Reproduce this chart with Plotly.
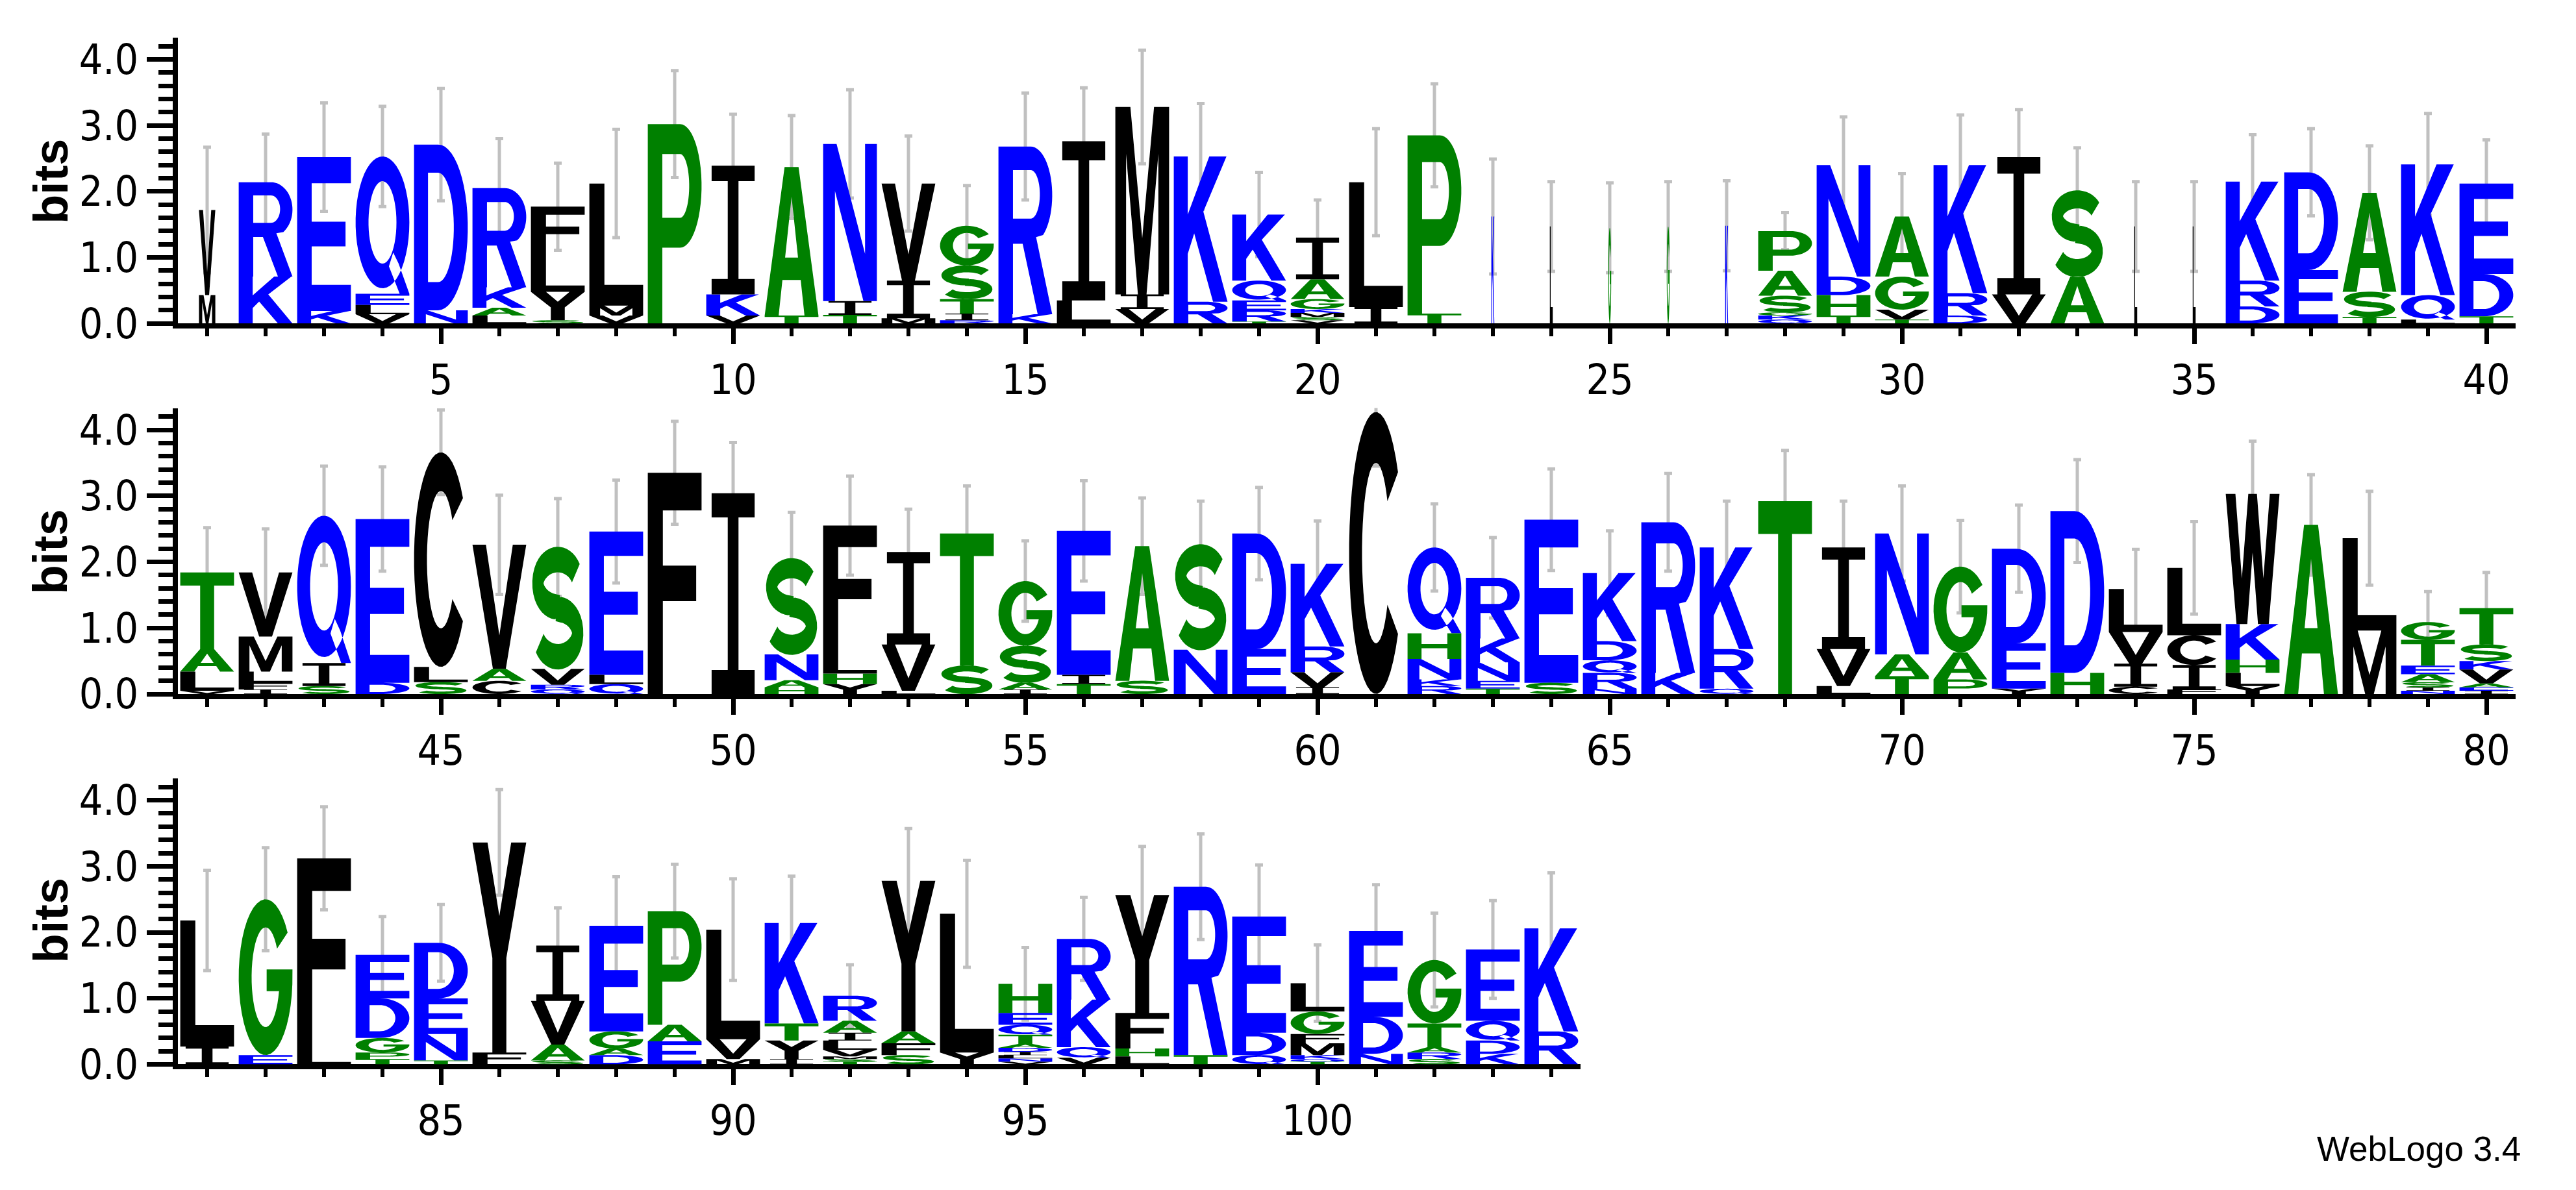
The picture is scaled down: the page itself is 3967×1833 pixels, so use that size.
import numpy as np
import plotly.graph_objects as go

# ---------------- data (bottom-to-top letters per position) ----------------
POSITIONS = list(range(1, 105))
LETTERS = [
 "MV","KR","KE","VLEQ","ND","LAKR","SYLF","VML","P","VKI",
 "TA","TIN","MIV","RITSG","KR","LI","VIM","RK","TREQK","VSMKGAI",
 "IL","TP","K","L","G","G","K","QKGSAP","THDN","TVGA",
 "DRK","VI","AS","L","L","DRK","ED","TSA","LQK","TDE",
 "VLAT","IFLMV","SIQ","DE","SLC","CAV","QRVS","QLE","F","I",
 "HANS","YHLF","LVI","ST","IASG","TIE","SA","NS","ED","IVRK",
 "C","RKNHQ","TENKR","SE","NRQDK","KR","QRK","T","LVI","TAN",
 "PAG","YED","HD","CIVL","FICL","YLHKW","A","ML","NISAETG","IEAVKST",
 "IL","EG","LF","TPGDE","TNED","FY","SAVI","DAGE","EAP","MVL",
 "IYTK","TSMVLIAR","SFAY","YL","VNLIDATQEH","VQKR","LHFY","TR","QDE","TQKMFGL",
 "NDE","SRATG","KDQE","RK",
]
HEIGHTS = [
 [.43,1.29],[.71,1.43],[.19,2.33],[.14,.14,.17,2.08],[.2,2.51],[.12,.12,.31,1.5],[.05,.43,.57,.72],[.12,.15,1.85],[3.02],[.12,.32,1.95],
 [.12,2.25],[.13,.21,2.38],[.08,.57,1.47],[.05,.1,.22,.51,.6],[.14,2.54],[.35,2.41],[.22,.22,2.84],[.33,2.2],[.03,.17,.15,.3,1.0],[.05,.05,.06,.06,.15,.3,.63],
 [.25,1.89],[.15,2.7],[1.62],[1.47],[1.45],[1.47],[1.48],[.06,.06,.05,.25,.38,.6],[.12,.31,.28,1.69],[.06,.15,.5,.91],
 [.12,.34,1.94],[.44,2.08],[.71,1.3],[1.47],[1.47],[.26,.39,1.5],[.81,1.48],[.1,.38,1.5],[.06,.37,1.98],[.11,.64,1.37],
 [.05,.29,.34,1.16],[.07,.1,.17,.53,.97],[.12,.35,2.23],[.17,2.48],[.18,.23,3.25],[.2,.18,1.88],[.07,.07,.24,1.84],[.15,.14,2.17],[3.35],[3.04],
 [.1,.11,.39,1.45],[.15,.16,.32,1.92],[.05,.7,1.4],[.43,2.0],[.07,.1,.56,.98],[.15,.14,2.18],[.2,2.04],[.67,1.59],[.68,1.75],[.1,.23,.39,1.25],
 [4.27],[.12,.1,.31,.39,1.3],[.08,.12,.28,.36,.92],[.17,2.47],[.08,.24,.19,.29,1.03],[.32,2.28],[.08,.6,1.54],[2.92],[.12,.56,1.54],[.27,.33,1.83],
 [.22,.41,1.3],[.08,.69,1.43],[.32,2.45],[.11,.35,.48,.65],[.07,.37,.45,1.02],[.12,.2,.2,.54,1.97],[2.56],[.96,1.4],[.05,.05,.08,.12,.13,.39,.27],[.05,.05,.06,.21,.13,.25,.55],
 [.27,1.91],[.14,2.36],[.22,2.9],[.08,.1,.22,.6,.66],[.06,.4,.54,.84],[.18,3.18],[.06,.24,.66,.84],[.14,.1,.26,1.6],[.35,.25,1.72],[.08,.3,1.66],
 [.08,.28,.26,1.52],[.04,.04,.04,.1,.14,.12,.18,.38],[.14,.18,.18,2.28],[.18,2.1],[.04,.05,.05,.05,.06,.06,.14,.15,.18,.44],[.1,.16,.72,.92],[.12,.12,.54,1.78],[.14,2.55],[.14,.34,1.76],[.04,.04,.06,.18,.14,.34,.43],
 [.16,.56,1.3],[.08,.1,.08,.36,.96],[.16,.2,.3,1.08],[.5,1.56],
]
ERRORS = [
 .95,.73,.82,.76,.85,.75,.66,.82,.81,.78,
 .78,.82,.72,.61,.81,.81,.86,.80,.64,.57,
 .81,.78,.87,.68,.68,.68,.68,.28,.73,.65,
 .76,.72,.65,.68,.68,.71,.66,.71,.77,.66,
 .68,.66,.75,.79,.64,.75,.74,.78,.78,.77,
 .70,.75,.65,.72,.61,.76,.73,.66,.70,.65,
 .82,.66,.61,.77,.64,.74,.70,.77,.70,.72,
 .70,.66,.78,.60,.70,.80,.76,.71,.46,.54,
 .76,.78,.78,.58,.58,.80,.57,.74,.71,.77,
 .71,.47,.79,.81,.55,.63,.74,.80,.78,.58,
 .70,.71,.74,.84,
]
# fraction of column width used by the letters (gappy columns are narrower)
COL_WIDTH = {1: 0.28, 23: 0.05, 24: 0.05, 25: 0.05, 26: 0.05, 27: 0.05, 34: 0.05, 35: 0.05}
ROWS = [(1, 40), (41, 80), (81, 104)]

BLUE, GREEN, BLACK = "#0000ff", "#008000", "#000000"
COLOR = {}
for c in "RKDENQ": COLOR[c] = BLUE
for c in "SGHTAP": COLOR[c] = GREEN
for c in "YVMCLFIW": COLOR[c] = BLACK

# ---------------- glyph outlines in a unit box ----------------
def arc(cx, cy, rx, ry, a0, a1, n=28):
    t = np.radians(np.linspace(a0, a1, n))
    return list(zip(cx + rx*np.cos(t), cy + ry*np.sin(t)))

def ring(a0, a1, rxi=.26, ryi=.32):
    return arc(.5, .5, .5, .5, a0, a1, 40) + arc(.5, .5, rxi, ryi, a1, a0, 40)

def stroke(pts, hw):
    p = np.array(pts)
    d = np.gradient(p, axis=0)
    d /= np.linalg.norm(d, axis=1)[:, None]
    nrm = np.stack([-d[:, 1], d[:, 0]], 1)
    left = p + nrm*hw
    right = p - nrm*hw
    return [tuple(v) for v in left] + [tuple(v) for v in right[::-1]]

G_OUT = arc(.5, .5, .5, .5, 35, 355, 40) + [(1, .55), (.52, .55), (.52, .41), (.74, .41)] + arc(.5, .5, .26, .32, 344, 35, 40)
S_LINE = arc(.5, .705, .37, .195, 25, 270, 30) + arc(.5, .295, .37, .195, 90, -155, 30)

GLYPH = {
 "A": [[(0,0),(.26,0),(.33,.24),(.67,.24),(.74,0),(1,0),(.63,1),(.37,1)], [(.38,.39),(.5,.8),(.62,.39)]],
 "C": [ring(35, 325)],
 "D": [[(0,0),(.45,0)] + arc(.45,.5,.55,.5,-90,90) + [(0,1)],
       [(.26,.17),(.26,.83),(.45,.83)] + arc(.45,.5,.29,.33,90,-90) + [(.45,.17)]],
 "E": [[(0,0),(1,0),(1,.17),(.27,.17),(.27,.42),(.9,.42),(.9,.58),(.27,.58),(.27,.83),(1,.83),(1,1),(0,1)]],
 "F": [[(0,0),(.28,0),(.28,.42),(.9,.42),(.9,.58),(.28,.58),(.28,.83),(1,.83),(1,1),(0,1)]],
 "G": [G_OUT],
 "H": [[(0,0),(.26,0),(.26,.42),(.74,.42),(.74,0),(1,0),(1,1),(.74,1),(.74,.58),(.26,.58),(.26,1),(0,1)]],
 "I": [[(.1,0),(.9,0),(.9,.12),(.6,.12),(.6,.88),(.9,.88),(.9,1),(.1,1),(.1,.88),(.4,.88),(.4,.12),(.1,.12)]],
 "K": [[(0,0),(.26,0),(.26,.33),(.38,.47),(.73,0),(1,0),(.55,.62),(.98,1),(.66,1),(.26,.6),(.26,1),(0,1)]],
 "L": [[(0,0),(1,0),(1,.17),(.28,.17),(.28,1),(0,1)]],
 "M": [[(0,0),(.2,0),(.2,.75),(.42,0),(.58,0),(.8,.75),(.8,0),(1,0),(1,1),(.72,1),(.5,.3),(.28,1),(0,1)]],
 "N": [[(0,0),(.22,0),(.22,.7),(.75,0),(1,0),(1,1),(.78,1),(.78,.3),(.25,1),(0,1)]],
 "P": [[(0,0),(.27,0),(.27,.38),(.6,.38)] + arc(.6,.69,.4,.31,-90,90) + [(0,1)],
       [(.27,.53),(.27,.85),(.6,.85)] + arc(.6,.69,.17,.16,90,-90) + [(.6,.53)]],
 "Q": [arc(.5,.52,.5,.48,0,360,50), arc(.5,.52,.26,.3,360,0,50),
       [(.62,.2),(.82,0),(1,0),(.8,.22),(.7,.3)]],
 "R": [[(0,0),(.27,0),(.27,.42),(.45,.42),(.73,0),(1,0),(.7,.46)] + arc(.6,.71,.4,.29,-55,90) + [(0,1)],
       [(.27,.57),(.27,.86),(.6,.86)] + arc(.6,.715,.17,.145,90,-90) + [(.6,.57)]],
 "S": [stroke(S_LINE, .105)],
 "T": [[(.37,0),(.63,0),(.63,.83),(1,.83),(1,1),(0,1),(0,.83),(.37,.83)]],
 "V": [[(0,1),(.38,0),(.62,0),(1,1),(.75,1),(.5,.27),(.25,1)]],
 "W": [[(0,1),(.2,0),(.4,0),(.5,.55),(.6,0),(.8,0),(1,1),(.82,1),(.7,.35),(.58,1),(.42,1),(.3,.35),(.18,1)]],
 "Y": [[(.37,0),(.63,0),(.63,.45),(1,1),(.72,1),(.5,.65),(.28,1),(0,1),(.37,.45)]],
}

def glyph_path(ch, x0, w, y0, h):
    s = []
    for poly in GLYPH[ch]:
        pts = ["%.4f,%.4f" % (x0 + u*w, y0 + v*h) for u, v in poly]
        s.append("M" + "L".join(pts) + "Z")
    return "".join(s)

fig = go.Figure()
shapes = []
domains_y = [(0.7278, 0.9733), (0.4097, 0.6552), (0.0917, 0.3372)]
XL = 266/3967
XR = [3866/3967, 3866/3967, 2426/3967]
FONT = "Liberation Sans Narrow, DejaVu Sans Condensed, Arial Narrow, sans-serif"

for r, (a, b) in enumerate(ROWS):
    xa = "x" if r == 0 else "x%d" % (r+1)
    ya = "y" if r == 0 else "y%d" % (r+1)
    paths = {BLUE: "", GREEN: "", BLACK: ""}
    tops = []
    for p in range(a, b+1):
        i = p - 1
        wf = COL_WIDTH.get(p, 0.92)
        base = 0.0
        for ch, h in zip(LETTERS[i], HEIGHTS[i]):
            paths[COLOR[ch]] += glyph_path(ch, p - wf/2, wf, base, h)
            base += h
        tops.append(base)
    for col, pth in paths.items():
        if pth:
            shapes.append(dict(type="path", path=pth, xref=xa, yref=ya,
                               fillcolor=col, line=dict(width=0), layer="above"))
    fig.add_trace(go.Scatter(
        x=POSITIONS[a-1:b], y=tops, mode="markers", xaxis=xa, yaxis=ya,
        marker=dict(size=1, color="rgba(0,0,0,0)"), showlegend=False, hoverinfo="skip",
        error_y=dict(type="data", array=ERRORS[a-1:b], color="#c0c0c0", thickness=5, width=6)))
    axis_common = dict(showline=True, linecolor="black", linewidth=8, ticks="outside",
                       tickwidth=7, showgrid=False, zeroline=False, tickcolor="black",
                       tickfont=dict(family=FONT, size=64, color="black"))
    fig.layout[("xaxis" if r == 0 else "xaxis%d" % (r+1))] = dict(
        axis_common, domain=[XL, XR[r]], range=[a-0.5, b+0.5], anchor=ya,
        tick0=0, dtick=5, ticklen=24,
        minor=dict(dtick=1, tick0=0, ticklen=12, tickwidth=6, ticks="outside", tickcolor="black"))
    fig.layout[("yaxis" if r == 0 else "yaxis%d" % (r+1))] = dict(
        axis_common, domain=list(domains_y[r]), range=[0, 4.33], anchor=xa,
        tickvals=[0, 1, 2, 3, 4], ticktext=["0.0", "1.0", "2.0", "3.0", "4.0"], ticklen=40,
        minor=dict(dtick=0.2, tick0=0, ticklen=22, tickwidth=7, ticks="outside", tickcolor="black"))

annotations = []
for yc in [0.85, 0.532, 0.2155]:
    annotations.append(dict(text="<b>bits</b>", x=70/3967, y=yc, xref="paper", yref="paper",
                            xanchor="center", yanchor="middle",
                            showarrow=False, textangle=-90,
                            font=dict(family="Liberation Sans, Arial, sans-serif", size=74, color="black")))
annotations.append(dict(text="WebLogo 3.4", x=3717/3967, y=1-1798/1833, xref="paper", yref="paper",
                        xanchor="center", yanchor="middle",
                        showarrow=False, font=dict(family="Liberation Sans, Arial, sans-serif", size=53, color="black")))

fig.update_layout(width=3967, height=1833, margin=dict(l=0, r=0, t=0, b=0),
                  plot_bgcolor="white", paper_bgcolor="white",
                  shapes=shapes, annotations=annotations, showlegend=False)
fig.write_html("out.html")
